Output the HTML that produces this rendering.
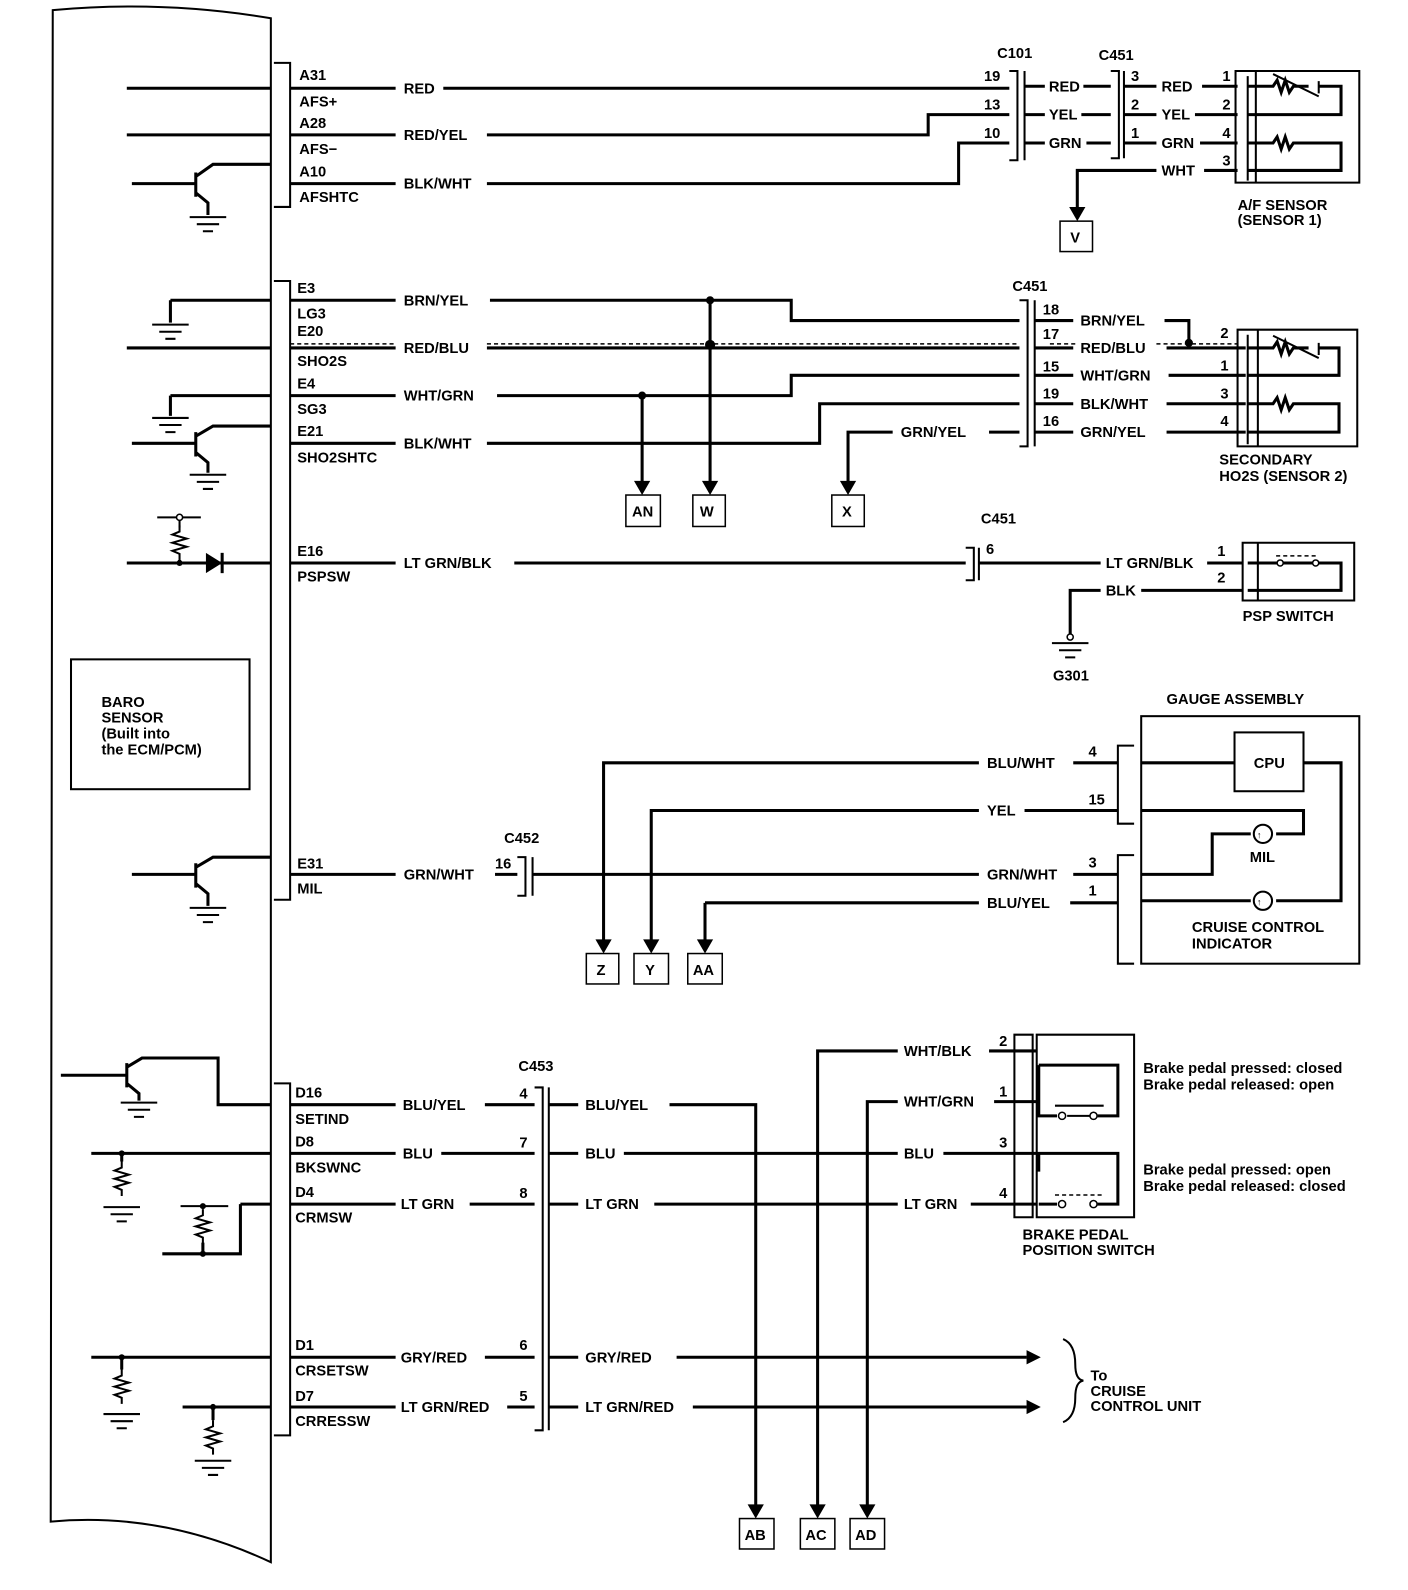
<!DOCTYPE html>
<html><head><meta charset="utf-8"><style>
html,body{margin:0;padding:0;background:#fff;}
svg{display:block;}
text{font-family:"Liberation Sans",Arial,sans-serif;font-weight:bold;font-size:14.5px;fill:#000;}
.l{stroke:#000;stroke-width:3;fill:none;}
.m{stroke:#000;stroke-width:2;fill:none;}
.d{stroke:#000;stroke-width:1.5;fill:none;stroke-dasharray:4 3;}
.b{stroke:#000;stroke-width:1.5;fill:#fff;}
</style></head><body>
<svg width="1408" height="1590" viewBox="0 0 1408 1590" xmlns="http://www.w3.org/2000/svg">
<defs>
<g id="gnd"><path class="m" d="M-18 0H18M-11 7H11M-5 14H5"/></g>
<g id="arr"><path d="M-8 -14L8 -14L0 0Z" fill="#000"/></g>
<g id="rv"><path class="m" d="M0 0V6L-7 9L7 13L-7 17L7 21L-7 25L0 28V34"/></g>
</defs>
<g transform="scale(1.0144)">
<path class="m" d="M52 10 Q160 0 267 18 V1540 Q160 1490 50 1500 Z"/>
<path class="m" d="M270 62H286V204H270"/>
<path class="m" d="M270 277H286V887H270"/>
<path class="m" d="M270 1068H286V1415H270"/>

<path class="l" d="M125 87H267M125 133H267M130 181H193M193 170V194M193 174L210 162H267M193 190L205 200V212"/>
<use href="#gnd" x="205" y="214"/>
<text x="295" y="79">A31</text><text x="295" y="105">AFS+</text><text x="295" y="126">A28</text><text x="295" y="152">AFS−</text><text x="295" y="174">A10</text><text x="295" y="199">AFSHTC</text>
<path class="l" d="M286 87H390M437 87H995M286 133H390M480 133H915V113H995M286 181H390M480 181H945V141H995"/>
<text x="398" y="92">RED</text><text x="398" y="138">RED/YEL</text><text x="398" y="186">BLK/WHT</text>
<path class="m" d="M995 70H1003V158H995M1010 70V158"/>
<text x="983" y="57">C101</text><text x="970" y="80">19</text><text x="970" y="108">13</text><text x="970" y="136">10</text>
<path class="l" d="M1010 85H1030M1068 85H1095M1010 113H1030M1066 113H1095M1010 141H1030M1071 141H1095"/>
<text x="1034" y="90">RED</text><text x="1034" y="118">YEL</text><text x="1034" y="146">GRN</text>
<path class="m" d="M1095 70H1103V156H1095M1108 70V156"/>
<text x="1083" y="59">C451</text><text x="1115" y="80">3</text><text x="1115" y="108">2</text><text x="1115" y="136">1</text>
<path class="l" d="M1108 85H1140M1185 85H1220M1108 113H1140M1178 113H1220M1108 141H1140M1183 141H1220M1187 168H1220M1140 168H1062V205"/>
<use href="#arr" x="1062" y="218"/>
<text x="1145" y="90">RED</text><text x="1145" y="118">YEL</text><text x="1145" y="146">GRN</text><text x="1145" y="173">WHT</text>
<text x="1205" y="80">1</text><text x="1205" y="108">2</text><text x="1205" y="136">4</text><text x="1205" y="163">3</text>
<rect class="b" x="1045" y="218" width="32" height="30"/><text x="1055" y="239">V</text>
<path class="m" d="M1238 70H1218V180H1238V70H1340V180H1238M1230 75V178"/>
<path class="l" d="M1230 85H1255L1259 79L1263 91L1267 79L1271 91L1275 85H1290M1300 85H1322V113H1230M1230 141H1255L1259 135L1263 147L1267 135L1271 147L1275 141H1322V168H1230"/>
<path class="m" d="M1255 73L1300 95M1300 80V92"/>
<text x="1220" y="207">A/F SENSOR</text><text x="1220" y="222">(SENSOR 1)</text>

<path class="l" d="M168 296H267M168 296V318M125 343H267M168 390H267M168 390V410M130 437H193M193 426V450M193 430L210 420H267M193 446L205 456V466"/>
<use href="#gnd" x="168" y="320"/><use href="#gnd" x="168" y="412"/><use href="#gnd" x="205" y="468"/>
<text x="293" y="289">E3</text><text x="293" y="314">LG3</text><text x="293" y="331">E20</text><text x="293" y="361">SHO2S</text><text x="293" y="383">E4</text><text x="293" y="408">SG3</text><text x="293" y="430">E21</text><text x="293" y="456">SHO2SHTC</text>
<path class="d" d="M286 339H390M480 339H1005M1035 339H1060M1140 339H1220"/>
<path class="l" d="M286 296H390M483 296H780V316H1005M286 343H390M480 343H1005M286 390H390M490 390H780V370H1005M286 437H390M480 437H808V398H1005"/>
<text x="398" y="301">BRN/YEL</text><text x="398" y="348">RED/BLU</text><text x="398" y="395">WHT/GRN</text><text x="398" y="442">BLK/WHT</text>
<circle cx="700" cy="296" r="4"/><circle cx="700" cy="340" r="5"/><circle cx="633" cy="390" r="4"/>
<path class="l" d="M700 296V476M633 390V476"/>
<use href="#arr" x="700" y="488"/><use href="#arr" x="633" y="488"/><use href="#arr" x="836" y="488"/>
<rect class="b" x="617" y="488" width="34" height="31"/><text x="623" y="509">AN</text>
<rect class="b" x="683" y="488" width="32" height="31"/><text x="690" y="509">W</text>
<rect class="b" x="820" y="488" width="32" height="31"/><text x="830" y="509">X</text>
<path class="l" d="M1005 426H975M880 426H836V476"/>
<text x="888" y="431">GRN/YEL</text>
<path class="m" d="M1005 296H1013V440H1005M1020 296V440"/>
<text x="998" y="287">C451</text>
<text x="1028" y="310">18</text><text x="1028" y="334">17</text><text x="1028" y="366">15</text><text x="1028" y="393">19</text><text x="1028" y="420">16</text>
<path class="l" d="M1020 316H1058M1020 343H1058M1020 370H1058M1020 398H1058M1020 426H1058"/>
<text x="1065" y="321">BRN/YEL</text><text x="1065" y="348">RED/BLU</text><text x="1065" y="375">WHT/GRN</text><text x="1065" y="403">BLK/WHT</text><text x="1065" y="431">GRN/YEL</text>
<path class="l" d="M1148 316H1172V338M1150 343H1228M1152 370H1228M1150 398H1228M1150 426H1228"/>
<circle cx="1172" cy="338" r="4"/>
<text x="1203" y="333">2</text><text x="1203" y="365">1</text><text x="1203" y="393">3</text><text x="1203" y="420">4</text>
<path class="m" d="M1240 325H1220V440H1240V325H1338V440H1240M1230 330V438"/>
<path class="l" d="M1230 343H1255L1259 337L1263 349L1267 337L1271 349L1275 343H1290M1300 343H1320V370H1230M1230 398H1255L1259 392L1263 404L1267 392L1271 404L1275 398H1320V426H1230"/>
<path class="m" d="M1255 331L1300 353M1300 338V350"/>
<text x="1202" y="458">SECONDARY</text><text x="1202" y="474">HO2S (SENSOR 2)</text>

<path class="m" d="M155 510H198M177 510V520"/><circle cx="177" cy="510" r="3" class="b"/>
<use href="#rv" x="177" y="518"/>
<path class="l" d="M125 555H267M177 552V557"/>
<path d="M203 545V565L219 555Z" fill="#000"/><path class="l" d="M219 545V565"/>
<circle cx="177" cy="555" r="3"/>
<text x="293" y="548">E16</text><text x="293" y="573">PSPSW</text>
<path class="l" d="M286 555H390M507 555H952"/>
<text x="398" y="560">LT GRN/BLK</text>
<path class="m" d="M952 540H960V572H952M965 540V572"/>
<text x="967" y="516">C451</text><text x="972" y="546">6</text>
<path class="l" d="M965 555H1085M1190 555H1225M1125 582H1225M1085 582H1055V625"/>
<text x="1090" y="560">LT GRN/BLK</text><text x="1090" y="587">BLK</text>
<text x="1200" y="548">1</text><text x="1200" y="574">2</text>
<circle cx="1055" cy="628" r="3" class="b"/>
<use href="#gnd" x="1055" y="634"/>
<text x="1038" y="671">G301</text>
<path class="m" d="M1240 535H1225V592H1240V535H1335V592H1240"/>
<path class="l" d="M1230 555H1255M1230 582H1322V555H1300M1255 555H1300"/>
<path class="d" d="M1258 548H1298"/>
<circle cx="1262" cy="555" r="3" class="b"/><circle cx="1297" cy="555" r="3" class="b"/>
<text x="1225" y="612">PSP SWITCH</text>

<rect x="70" y="650" width="176" height="128" class="m"/>
<text x="100" y="697">BARO</text><text x="100" y="712">SENSOR</text><text x="100" y="728">(Built into</text><text x="100" y="744">the ECM/PCM)</text>

<text x="1150" y="694">GAUGE ASSEMBLY</text>
<rect x="1125" y="706" width="215" height="244" class="m"/>
<path class="m" d="M1118 735H1102V812H1118M1118 843H1102V950H1118"/>
<rect x="1217" y="722" width="68" height="58" class="m"/><text x="1236" y="757">CPU</text>
<text x="1073" y="746">4</text><text x="1073" y="793">15</text><text x="1073" y="855">3</text><text x="1073" y="883">1</text>
<path class="l" d="M1058 752H1102M1125 752H1217M1285 752H1322V888H1258M1233 888H1125M1010 799H1102M1125 799H1285V822H1258M1233 822H1195V862H1125M1058 862H1102M1055 890H1102"/>
<circle cx="1245" cy="822" r="9" class="m"/><circle cx="1245" cy="888" r="9" class="m"/>
<text x="1239" y="826" style="font-size:9px">↑</text><text x="1239" y="892" style="font-size:9px">↑</text>
<text x="1232" y="850">MIL</text><text x="1175" y="919">CRUISE CONTROL</text><text x="1175" y="935">INDICATOR</text>
<path class="l" d="M965 752H595V930M965 799H642V930M695 890H965M695 890V930"/>
<use href="#arr" x="595" y="940"/><use href="#arr" x="642" y="940"/><use href="#arr" x="695" y="940"/>
<text x="973" y="757">BLU/WHT</text><text x="973" y="804">YEL</text><text x="973" y="867">GRN/WHT</text><text x="973" y="895">BLU/YEL</text>
<rect class="b" x="578" y="940" width="32" height="30"/><text x="588" y="961">Z</text>
<rect class="b" x="625" y="940" width="34" height="30"/><text x="636" y="961">Y</text>
<rect class="b" x="678" y="940" width="34" height="30"/><text x="683" y="961">AA</text>
<path class="l" d="M130 862H193M193 851V875M193 855L210 845H267M193 871L205 881V893"/>
<use href="#gnd" x="205" y="895"/>
<text x="293" y="856">E31</text><text x="293" y="881">MIL</text>
<path class="l" d="M286 862H390M488 862H510M525 862H965"/>
<text x="398" y="867">GRN/WHT</text>
<path class="m" d="M510 845H518V883H510M525 845V883"/>
<text x="497" y="831">C452</text><text x="488" y="856">16</text>

<path class="l" d="M60 1060H125M125 1048V1072M125 1052L140 1043H215V1089H267M125 1068L137 1078V1085"/>
<use href="#gnd" x="137" y="1087"/>
<path class="l" d="M90 1137H267M120 1137V1145M160 1236H200M200 1236V1225M200 1187V1190M237 1187H267M237 1187V1236H200"/>
<use href="#rv" x="120" y="1145"/><use href="#gnd" x="120" y="1190"/>
<path class="m" d="M178 1189H225"/><use href="#rv" x="200" y="1192"/>
<circle cx="120" cy="1137" r="3"/><circle cx="200" cy="1236" r="3"/><circle cx="200" cy="1189" r="3"/>
<path class="l" d="M90 1338H267M120 1338V1350M180 1387H267M210 1387V1400"/>
<use href="#rv" x="120" y="1350"/><use href="#gnd" x="120" y="1394"/>
<use href="#rv" x="210" y="1400"/><use href="#gnd" x="210" y="1440"/>
<circle cx="120" cy="1338" r="3"/><circle cx="210" cy="1387" r="3"/>
<text x="291" y="1082">D16</text><text x="291" y="1108">SETIND</text><text x="291" y="1130">D8</text><text x="291" y="1156">BKSWNC</text><text x="291" y="1180">D4</text><text x="291" y="1205">CRMSW</text>
<text x="291" y="1331">D1</text><text x="291" y="1356">CRSETSW</text><text x="291" y="1381">D7</text><text x="291" y="1406">CRRESSW</text>
<path class="l" d="M286 1089H390M478 1089H527M286 1137H390M435 1137H527M286 1187H390M463 1187H527M286 1338H390M478 1338H527M286 1387H390M500 1387H527"/>
<text x="397" y="1094">BLU/YEL</text><text x="397" y="1142">BLU</text><text x="395" y="1192">LT GRN</text><text x="395" y="1343">GRY/RED</text><text x="395" y="1392">LT GRN/RED</text>
<path class="m" d="M527 1072H535V1410H527M541 1072V1410"/>
<text x="511" y="1056">C453</text>
<text x="512" y="1083">4</text><text x="512" y="1131">7</text><text x="512" y="1181">8</text><text x="512" y="1331">6</text><text x="512" y="1381">5</text>
<path class="l" d="M541 1089H570M660 1089H745V1485M541 1137H570M615 1137H885M930 1137H1000M541 1187H570M645 1187H885M957 1187H1000M541 1338H570M667 1338H1012M541 1387H570M683 1387H1012"/>
<path d="M1012 1331L1026 1338L1012 1345Z" fill="#000"/><path d="M1012 1380L1026 1387L1012 1394Z" fill="#000"/>
<text x="577" y="1094">BLU/YEL</text><text x="577" y="1142">BLU</text><text x="577" y="1192">LT GRN</text><text x="577" y="1343">GRY/RED</text><text x="577" y="1392">LT GRN/RED</text>
<text x="891" y="1142">BLU</text><text x="891" y="1192">LT GRN</text>
<path class="l" d="M885 1036H806V1485M975 1036H1000M885 1086H855V1485M980 1086H1000"/>
<text x="891" y="1041">WHT/BLK</text><text x="891" y="1091">WHT/GRN</text>
<text x="985" y="1031">2</text><text x="985" y="1081">1</text><text x="985" y="1131">3</text><text x="985" y="1181">4</text>
<use href="#arr" x="745" y="1497"/><use href="#arr" x="806" y="1497"/><use href="#arr" x="855" y="1497"/>
<rect class="b" x="729" y="1497" width="34" height="30"/><text x="734" y="1518">AB</text>
<rect class="b" x="789" y="1497" width="34" height="30"/><text x="794" y="1518">AC</text>
<rect class="b" x="838" y="1497" width="34" height="30"/><text x="843" y="1518">AD</text>
<path class="m" d="M1000 1020H1018V1200H1000ZM1022 1020H1118V1200H1022Z"/>
<path class="l" d="M1000 1036H1022M1000 1086H1022M1000 1137H1022M1000 1187H1022M1024 1050H1102V1100H1082M1042 1100H1024V1050M1024 1155V1137H1102V1187H1082M1042 1187H1024"/>
<path class="m" d="M1052 1100H1078M1040 1090H1088"/><path class="d" d="M1040 1178H1088"/>
<circle cx="1047" cy="1100" r="3.5" class="b"/><circle cx="1078" cy="1100" r="3.5" class="b"/>
<circle cx="1047" cy="1187" r="3.5" class="b"/><circle cx="1078" cy="1187" r="3.5" class="b"/>
<text x="1127" y="1058">Brake pedal pressed: closed</text><text x="1127" y="1074">Brake pedal released: open</text>
<text x="1127" y="1158">Brake pedal pressed: open</text><text x="1127" y="1174">Brake pedal released: closed</text>
<text x="1008" y="1222">BRAKE PEDAL</text><text x="1008" y="1237">POSITION SWITCH</text>
<path class="m" d="M1048 1320Q1060 1325 1060 1345Q1060 1360 1068 1361Q1060 1362 1060 1378Q1060 1397 1048 1402"/>
<text x="1075" y="1361">To</text><text x="1075" y="1376">CRUISE</text><text x="1075" y="1391">CONTROL UNIT</text>
</g>
</svg>
</body></html>
